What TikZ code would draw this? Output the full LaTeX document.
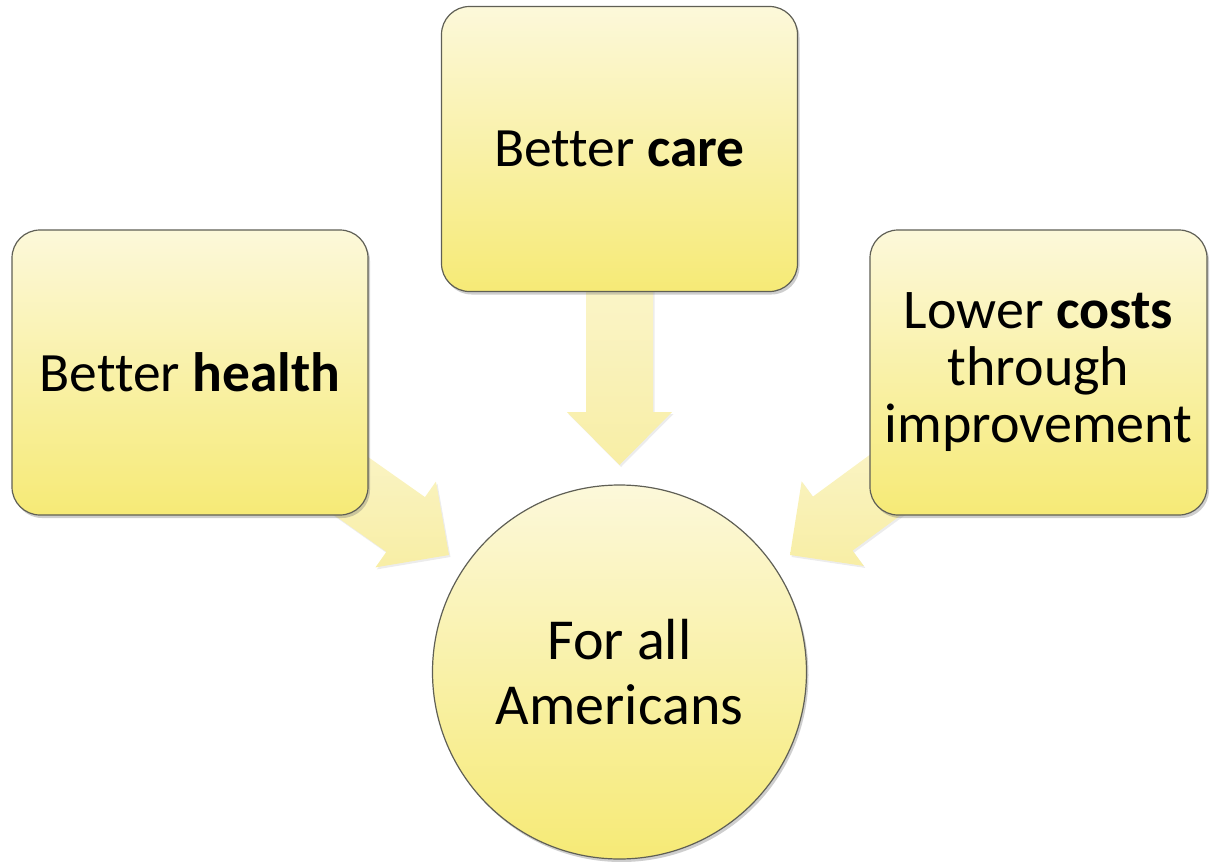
\documentclass[tikz,border=0pt]{standalone}
\usepackage{fontspec}
\setmainfont{Carlito}[Ligatures=NoCommon]
\usetikzlibrary{shadows,calc,backgrounds}
\definecolor{boxtop}{RGB}{252,248,218}
\definecolor{boxbot}{RGB}{246,234,118}
\definecolor{arrtop}{RGB}{251,247,214}
\definecolor{arrbot}{RGB}{248,238,165}
\definecolor{edgegray}{RGB}{95,95,85}
\begin{document}
\begin{tikzpicture}[x=1pt,y=-1pt,
  softshadow/.style={drop shadow={shadow xshift=2pt, shadow yshift=-3pt, opacity=0.35, fill=black!55}},
  box/.style={rectangle, rounded corners=28pt, draw=edgegray, line width=1.2pt,
    top color=boxtop, bottom color=boxbot, minimum width=356pt, minimum height=285pt,
    inner sep=0pt, align=center, font=\fontsize{55.5}{66}\selectfont, softshadow},
  circ/.style={circle, draw=edgegray, line width=1.2pt, top color=boxtop, bottom color=boxbot,
    minimum size=374pt, inner sep=0pt, align=center, font=\fontsize{58}{65}\selectfont, softshadow},
  blockarrow/.style={top color=arrtop, bottom color=arrbot,
    drop shadow={shadow xshift=1.5pt, shadow yshift=-2pt, opacity=0.15, fill=black!50}}
]
\useasboundingbox (0,0) rectangle (1211,862);

\node[box] (care) at (619.5,149) {Better \textbf{care}};
\node[box] (health) at (190,372.5) {Better \textbf{health}};
\node[box, minimum width=337pt, font=\fontsize{56}{57}\selectfont] (costs) at (1038.5,372.5) {Lower \textbf{costs}\\through\\improvement};
\node[circ] (all) at (619.5,672) {For all\\Americans};

\coordinate (tipC) at (619.5,465);
\coordinate (tipL) at (449,555);
\coordinate (tipR) at (790,555);

\begin{scope}[on background layer]
\foreach \src/\dst in {care/tipC, health/tipL, costs/tipR}{
  \path[blockarrow] let \p1=(\src.center), \p2=(\dst), \n1={atan2(\y2-\y1,\x2-\x1)} in
    {[shift={(\p2)}, rotate=\n1]
    (0,0) -- (-53,52.5) -- (-53,33.5) -- (-250,33.5) -- (-250,-33.5) -- (-53,-33.5) -- (-53,-52.5) -- cycle};
}
\end{scope}
\end{tikzpicture}
\end{document}
